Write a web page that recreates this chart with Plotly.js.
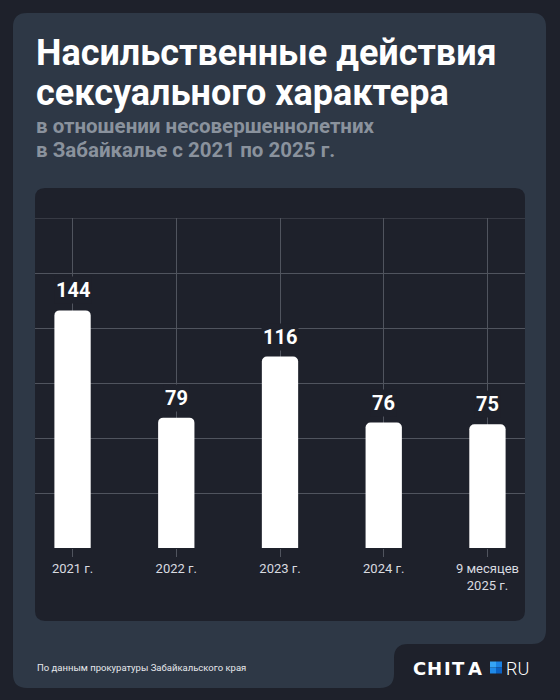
<!DOCTYPE html>
<html>
<head>
<meta charset="utf-8">
<script src="https://cdn.plot.ly/plotly-3.0.1.min.js"></script>
<style>html,body{margin:0;padding:0;background:#1e212b;}#chart{width:560px;height:700px;}</style>
</head>
<body>
<div id="chart"></div>
<script>
// ---- data ----
const categories = ['2021 г.', '2022 г.', '2023 г.', '2024 г.', '9 месяцев<br>2025 г.'];
const values = [144, 79, 116, 76, 75];
const gridValues = [0, 33.333, 66.667, 100, 133.333, 166.667, 200];
const titleLines = ['Насильственные действия', 'сексуального характера'];
const subtitleLines = ['в отношении несовершеннолетних', 'в Забайкалье с 2021 по 2025 г.'];
const sourceText = 'По данным прокуратуры Забайкальского края';
const logoLetters = ['C', 'H', 'I', 'T', 'A'];

// ---- geometry helpers (pixel -> paper) ----
const W = 560, H = 700;
const PL = 35, PR = 525, PT = 218, PB = 548;
const px = x => (x - PL) / (PR - PL);
const py = y => (PB - y) / (PB - PT);

function pathFrom(cmds) {
  return cmds.map(c => {
    const op = c[0];
    const pts = [];
    for (let i = 1; i < c.length; i += 2) pts.push(px(c[i]).toFixed(5) + ',' + py(c[i + 1]).toFixed(5));
    return op + ' ' + pts.join(' ');
  }).join(' ') + ' Z';
}
function roundRect(x0, y0, x1, y1, r) {
  return pathFrom([
    ['M', x0 + r, y0], ['L', x1 - r, y0], ['Q', x1, y0, x1, y0 + r],
    ['L', x1, y1 - r], ['Q', x1, y1, x1 - r, y1], ['L', x0 + r, y1],
    ['Q', x0, y1, x0, y1 - r], ['L', x0, y0 + r], ['Q', x0, y0, x0 + r, y0]
  ]);
}

const cardColor = '#2e3846';
const panelColor = '#1e212b';
const gridColor = '#50545e';

// card with notch at bottom right
const r = 14;
const cardPath = pathFrom([
  ['M', 13 + r, 13], ['L', 546 - r, 13], ['Q', 546, 13, 546, 13 + r],
  ['L', 546, 644 - r], ['Q', 546, 644, 546 - r, 644],
  ['L', 394 + r, 644], ['Q', 394, 644, 394, 644 + r],
  ['L', 394, 688 - r], ['Q', 394, 688, 394 - r, 688],
  ['L', 13 + r, 688], ['Q', 13, 688, 13, 688 - r],
  ['L', 13, 13 + r], ['Q', 13, 13, 13 + r, 13]
]);

const topGrid = gridValues[gridValues.length - 1];
const shapes = [
  {type: 'path', xref: 'paper', yref: 'paper', path: cardPath, fillcolor: cardColor, line: {width: 0}, layer: 'below'},
  {type: 'path', xref: 'paper', yref: 'paper', path: roundRect(35, 188, 525, 621, 10), fillcolor: panelColor, line: {width: 0}, layer: 'below'},
  // top gridline (edge line that plotly clips)
  {type: 'line', xref: 'paper', yref: 'y', x0: 0, x1: 1, y0: topGrid, y1: topGrid, line: {color: gridColor, width: 1}, layer: 'below'},
  // logo square (4 tiles)
  {type: 'rect', xref: 'paper', yref: 'paper', x0: px(490), x1: px(496), y0: py(661.5), y1: py(667.5), fillcolor: '#35a4f5', line: {width: 0}},
  {type: 'rect', xref: 'paper', yref: 'paper', x0: px(496), x1: px(502), y0: py(661.5), y1: py(667.5), fillcolor: '#1b82e3', line: {width: 0}},
  {type: 'rect', xref: 'paper', yref: 'paper', x0: px(490), x1: px(496), y0: py(667.5), y1: py(673.5), fillcolor: '#1f8ae8', line: {width: 0}},
  {type: 'rect', xref: 'paper', yref: 'paper', x0: px(496), x1: px(502), y0: py(667.5), y1: py(673.5), fillcolor: '#0b62c4', line: {width: 0}}
];

const annotations = [];
titleLines.forEach((t, i) => annotations.push({
  xref: 'paper', yref: 'paper', x: px(34), y: py(53 + i * 40), xanchor: 'left', yanchor: 'middle',
  text: t, showarrow: false, font: {family: 'Roboto', size: 36, color: '#ffffff', weight: 'bold'}
}));
subtitleLines.forEach((t, i) => annotations.push({
  xref: 'paper', yref: 'paper', x: px(34), y: py(126 + i * 24), xanchor: 'left', yanchor: 'middle',
  text: t, showarrow: false, font: {family: 'Roboto', size: 20.5, color: '#8a929d', weight: 'bold'}
}));
values.forEach((v, i) => annotations.push({
  xref: 'x', yref: 'y', x: categories[i], y: v, xanchor: 'center', yanchor: 'bottom', yshift: 6,
  text: String(v), showarrow: false, bgcolor: panelColor, borderpad: 1,
  font: {family: 'Roboto', size: 20, color: '#ffffff', weight: 'bold'}
}));
annotations.push({
  xref: 'paper', yref: 'paper', x: px(35), y: py(667), xanchor: 'left', yanchor: 'middle',
  text: sourceText, showarrow: false, font: {family: 'Roboto', size: 9.5, color: '#e6e8ec'}
});
const logoCenters = [419, 434.5, 447.3, 458.8, 474.8];
logoLetters.forEach((l, i) => annotations.push({
  xref: 'paper', yref: 'paper', x: px(logoCenters[i]), y: py(668), xanchor: 'center', yanchor: 'middle',
  text: l, showarrow: false, font: {family: 'DejaVu Sans', size: 18, color: '#ffffff', weight: 'bold'}
}));
annotations.push({
  xref: 'paper', yref: 'paper', x: px(504), y: py(668), xanchor: 'left', yanchor: 'middle',
  text: 'RU', showarrow: false, font: {family: 'Roboto', size: 18, color: '#ffffff', weight: 300}
});

const trace = {
  type: 'bar', x: categories, y: values, width: 0.35,
  marker: {color: '#ffffff', cornerradius: 5, line: {width: 0}},
  hoverinfo: 'none'
};

const layout = {
  width: W, height: H,
  paper_bgcolor: '#1e212b', plot_bgcolor: 'rgba(0,0,0,0)',
  margin: {l: PL, r: W - PR, t: PT, b: H - PB, pad: 0},
  showlegend: false,
  xaxis: {
    type: 'category', range: [-0.362, 4.362], showgrid: true, gridcolor: gridColor, gridwidth: 1,
    ticks: 'outside', ticklen: 8, tickcolor: gridColor, tickwidth: 1, showline: false, zeroline: false,
    tickfont: {family: 'Roboto', size: 13, color: '#d9dbe0'}, fixedrange: true
  },
  yaxis: {
    range: [0, 200], tickvals: gridValues, showticklabels: false, showgrid: true, gridcolor: gridColor,
    gridwidth: 1, zeroline: false, showline: false, ticks: '', fixedrange: true
  },
  shapes: shapes,
  annotations: annotations
};

Plotly.newPlot('chart', [trace], layout, {displayModeBar: false, staticPlot: true});
</script>
</body>
</html>
